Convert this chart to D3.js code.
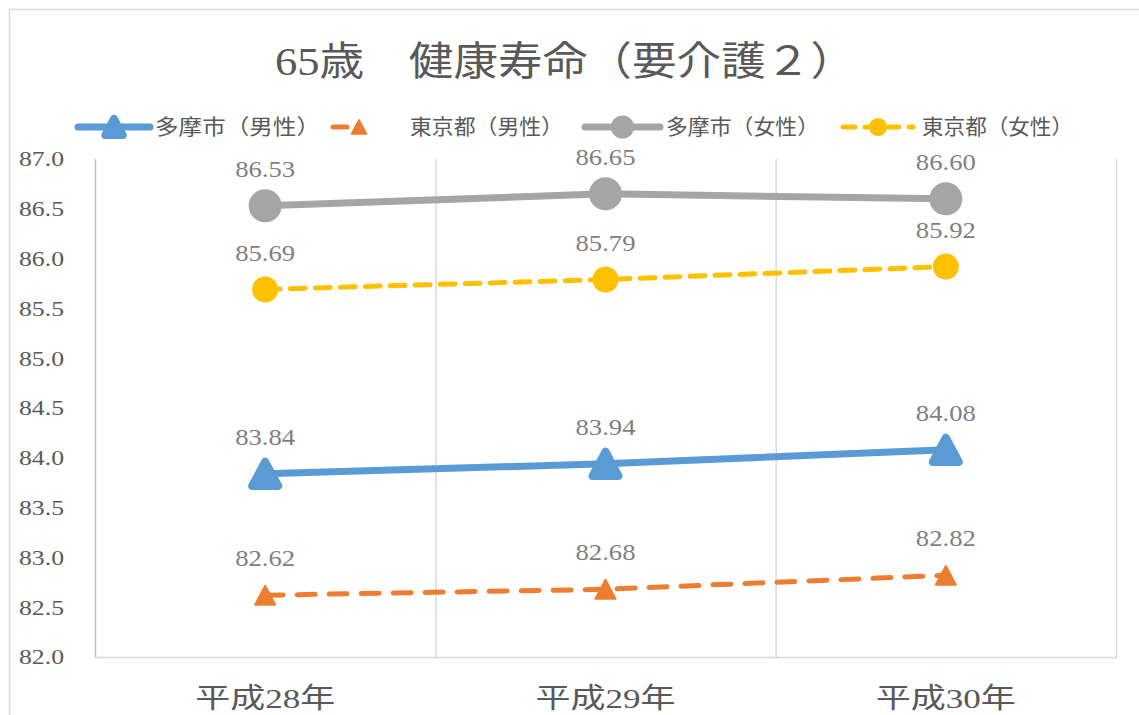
<!DOCTYPE html>
<html><head><meta charset="utf-8">
<script src="https://cdn.jsdelivr.net/npm/d3@7"></script>
<style>body{margin:0;background:#fff}svg{display:block}
.sf{font-family:"Liberation Serif","DejaVu Serif",serif}
.sfj{font-family:"Liberation Serif","DejaVu Serif","Noto Sans CJK JP",serif}
.ss{font-family:"Noto Sans CJK JP","Noto Sans",sans-serif}
</style>
</head><body>
<svg id="c" width="1139" height="715"></svg>
<script>
const title = "65歳　健康寿命（要介護２）";
const categories = ["平成28年", "平成29年", "平成30年"];
const seriesNames = ["多摩市（男性）", "東京都（男性）", "多摩市（女性）", "東京都（女性）"];
const tamaMale = [83.84, 83.94, 84.08];
const tokyoMale = [82.62, 82.68, 82.82];
const tamaFemale = [86.53, 86.65, 86.60];
const tokyoFemale = [85.69, 85.79, 85.92];
const yTicks = [82.0, 82.5, 83.0, 83.5, 84.0, 84.5, 85.0, 85.5, 86.0, 86.5, 87.0];

const series = [
  {name: seriesNames[0], values: tamaMale, color: "#5b9bd5", width: 7, dash: null, marker: "tri", msize: 34},
  {name: seriesNames[1], values: tokyoMale, color: "#ed7d31", width: 5, dash: "18,14", marker: "tri", msize: 22},
  {name: seriesNames[2], values: tamaFemale, color: "#a5a5a5", width: 7, dash: null, marker: "circ", msize: 16.5},
  {name: seriesNames[3], values: tokyoFemale, color: "#ffc000", width: 5, dash: "15,10", marker: "circ", msize: 13}
];

const svg = d3.select("#c");

svg.append("rect").attr("x", 9.5).attr("y", 9.5).attr("width", 1140).attr("height", 720)
  .attr("fill", "#fff").attr("stroke", "#d9d9d9").attr("stroke-width", 1.5);

const L = 95, R = 1116, T = 159, B = 657;
const x = d3.scaleBand().domain(categories).range([L, R]).padding(0);
const y = d3.scaleLinear().domain([82, 87]).range([B, T]);

// vertical gridlines at band boundaries
const bounds = categories.map(c => x(c)).concat([R]);
svg.append("g").selectAll("line").data(bounds).join("line")
  .attr("x1", d => d + 0.5).attr("x2", d => d + 0.5).attr("y1", T).attr("y2", B)
  .attr("stroke", (d, i) => i === 0 ? "#bfbfbf" : "#d9d9d9").attr("stroke-width", 1.5);
svg.append("line").attr("x1", L).attr("x2", R + 1).attr("y1", B + 0.5).attr("y2", B + 0.5)
  .attr("stroke", "#d9d9d9").attr("stroke-width", 1.5);

// y tick labels
svg.append("g").selectAll("text").data(yTicks).join("text")
  .attr("class", "sf")
  .attr("x", 64).attr("y", d => y(d)).attr("dy", "0.35em").attr("text-anchor", "end")
  .attr("font-size", 21).attr("fill", "#595959")
  .attr("textLength", 45).attr("lengthAdjust", "spacingAndGlyphs")
  .text(d => d.toFixed(1));

// x labels
svg.append("g").selectAll("text").data(categories).join("text")
  .attr("class", "sfj")
  .attr("x", d => x(d) + x.bandwidth() / 2).attr("y", 708).attr("text-anchor", "middle")
  .attr("font-size", 28).attr("fill", "#595959")
  .attr("textLength", 140).attr("lengthAdjust", "spacingAndGlyphs")
  .text(d => d);

// title
svg.append("text").attr("class", "sfj").attr("x", 565).attr("y", 75).attr("text-anchor", "middle")
  .attr("font-size", 40).attr("fill", "#595959")
  .attr("textLength", 580).attr("lengthAdjust", "spacingAndGlyphs")
  .text(title);

function marker(g, s, cx, cy, size) {
  if (s.marker === "tri") {
    const h = size * 0.95, w = size;
    const r = s.msize > 30 ? 4 : 1;
    g.append("path")
      .attr("d", `M${cx},${cy - h/2 + r} L${cx + w/2 - r},${cy + h/2 - r} L${cx - w/2 + r},${cy + h/2 - r}Z`)
      .attr("fill", s.color).attr("stroke", s.color).attr("stroke-width", r * 2).attr("stroke-linejoin", "round");
  } else {
    g.append("circle").attr("cx", cx).attr("cy", cy).attr("r", size).attr("fill", s.color);
  }
}

const line = d3.line().x((d, i) => x(categories[i]) + x.bandwidth() / 2).y(d => y(d));

series.forEach(s => {
  const g = svg.append("g");
  g.append("path").attr("d", line(s.values)).attr("fill", "none")
    .attr("stroke", s.color).attr("stroke-width", s.width)
    .attr("stroke-dasharray", s.dash).attr("stroke-linecap", s.dash ? "round" : "butt");
  s.values.forEach((v, i) => {
    marker(g, s, x(categories[i]) + x.bandwidth() / 2, y(v), s.msize);
  });
  g.selectAll("text").data(s.values).join("text")
    .attr("class", "sf")
    .attr("x", (d, i) => x(categories[i]) + x.bandwidth() / 2)
    .attr("y", d => y(d) - 37).attr("dy", "0.35em").attr("text-anchor", "middle")
    .attr("font-size", 23).attr("fill", "#7f7f7f")
    .attr("textLength", 60).attr("lengthAdjust", "spacingAndGlyphs")
    .text(d => d.toFixed(2));
});

// legend
const legendItems = [
  {x1: 78, x2: 150, tx: 155, tw: 165},
  {x1: 333, x2: 385, tx: 410, tw: 153},
  {x1: 585, x2: 660, tx: 666, tw: 153},
  {x1: 843, x2: 913, tx: 922, tw: 151}
];
const ly = 127;
series.forEach((s, i) => {
  const it = legendItems[i];
  const g = svg.append("g");
  g.append("line").attr("x1", it.x1).attr("x2", it.x2).attr("y1", ly).attr("y2", ly)
    .attr("stroke", s.color).attr("stroke-width", s.width).attr("stroke-linecap", "round")
    .attr("stroke-dasharray", s.dash ? (i === 1 ? "14,38" : "12,10") : null);
  marker(g, s, (it.x1 + it.x2) / 2, ly, s.marker === "tri" ? s.msize * 0.75 : s.msize * 0.7);
  g.append("text").attr("class", "ss").attr("x", it.tx).attr("y", ly).attr("dy", "0.35em")
    .attr("font-size", 21).attr("fill", "#595959")
    .attr("textLength", it.tw).attr("lengthAdjust", "spacingAndGlyphs")
    .text(s.name);
});
</script>
</body></html>
